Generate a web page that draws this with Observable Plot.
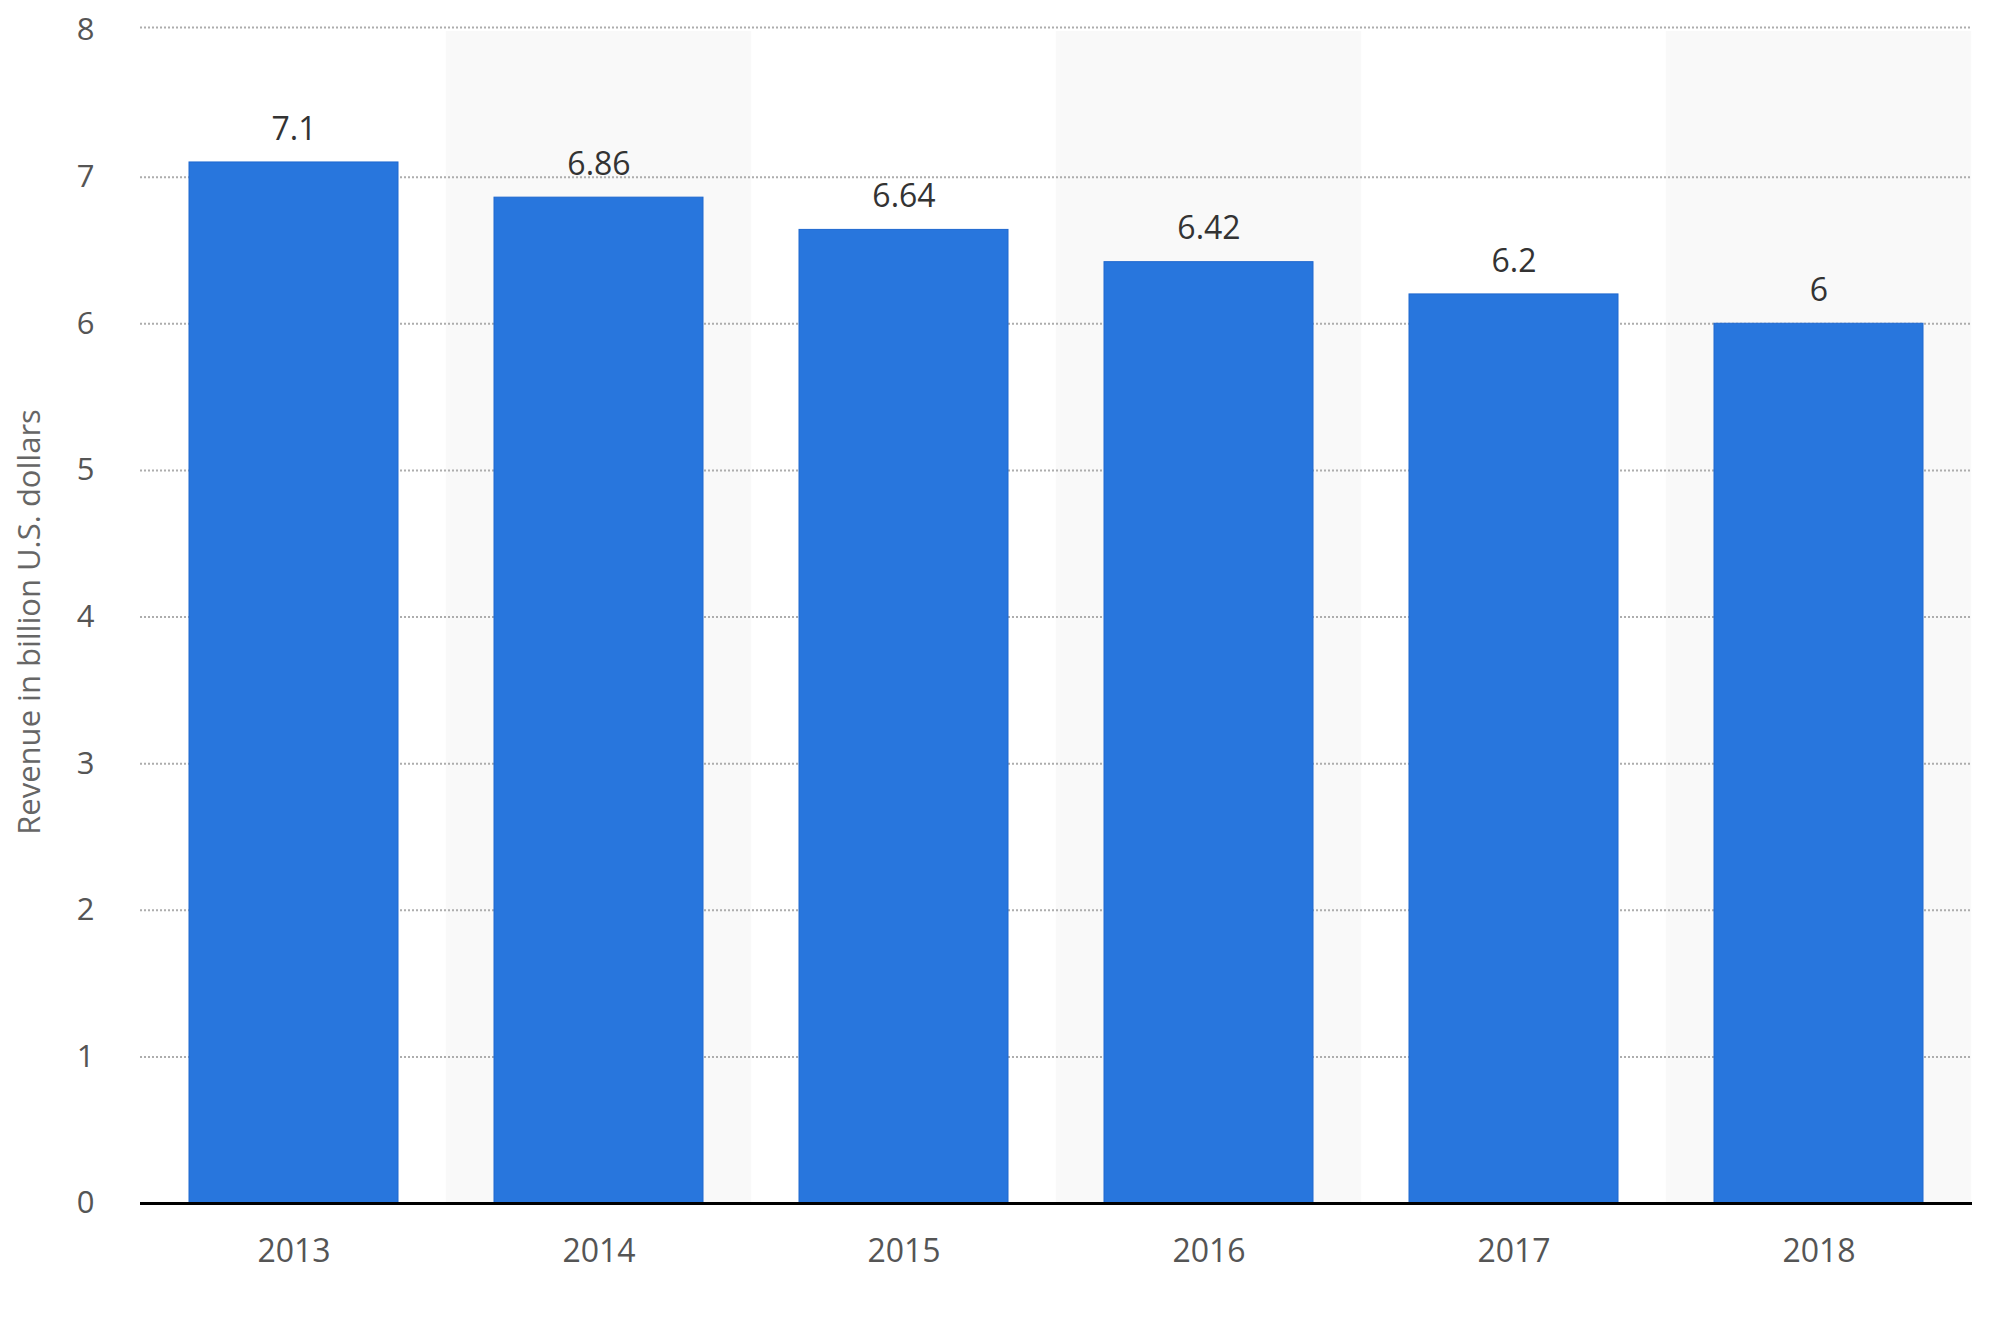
<!DOCTYPE html>
<html>
<head>
<meta charset="utf-8">
<script src="https://cdn.jsdelivr.net/npm/d3@7"></script>
<script src="https://cdn.jsdelivr.net/npm/@observablehq/plot@0.6"></script>
<style>
  html, body { margin: 0; padding: 0; background: #fff; }
  #chart svg { display: block; }
</style>
</head>
<body>
<div id="chart"></div>
<script>
const years = ["2013", "2014", "2015", "2016", "2017", "2018"];
const revenue = [7.1, 6.86, 6.64, 6.42, 6.2, 6];
const yTicks = [0, 1, 2, 3, 4, 5, 6, 7, 8];
const yTitle = "Revenue in billion U.S. dollars";

const data = years.map((year, i) => ({year, value: revenue[i]}));
const shaded = data.filter((d, i) => i % 2 === 1);

const W = 2000, H = 1331;
const mL = 140, mR = 28, mT = 30, mB = 128;
const padIn = 0.316, padOut = 0.158;
const step = (W - mL - mR) / (years.length - padIn + 2 * padOut);
const halfGap = step * padIn / 2;

const font = "'Open Sans', 'DejaVu Sans', sans-serif";

const chart = Plot.plot({
  width: W,
  height: H,
  marginLeft: mL,
  marginRight: mR,
  marginTop: mT,
  marginBottom: mB,
  style: {fontFamily: font, background: "#fff"},
  x: {domain: years, paddingInner: padIn, paddingOuter: padOut, label: null},
  y: {domain: [0, 8], label: null},
  marks: [
    Plot.barY(shaded, {x: "year", y1: 0, y2: 8, fill: "#f9f9f9", insetLeft: -halfGap, insetRight: -halfGap, insetTop: 1}),
    Plot.gridY(yTicks.filter(t => t > 0 && t < 8), {stroke: "#adadad", strokeOpacity: 1, strokeWidth: 2, strokeDasharray: "2,2"}),
    Plot.ruleY([8], {dy: -3, stroke: "#adadad", strokeWidth: 2, strokeDasharray: "2,2"}),
    Plot.barY(data, {x: "year", y: "value", fill: "#2876dd", stroke: "#1f68cf", strokeWidth: 1}),
    Plot.ruleY([0], {stroke: "#000", strokeWidth: 3}),
    Plot.axisY(yTicks, {tickSize: 0, tickPadding: 46, fontSize: 31, fill: "#555", tickFormat: d => String(d), label: null}),
    Plot.axisX({tickSize: 0, tickPadding: 36, fontSize: 32, fill: "#555", label: null, style: {letterSpacing: "2px"}}),
    Plot.text(data, {x: "year", y: "value", text: d => String(d.value), dy: -33, fontSize: 32, fill: "#333", style: {letterSpacing: "1.5px"}}),
    Plot.text([yTitle], {text: d => d, frameAnchor: "left", textAnchor: "middle", rotate: -90, dx: -110, dy: 5, fontSize: 31, fill: "#666", style: {letterSpacing: "0.9px"}})
  ]
});
document.getElementById("chart").appendChild(chart);
</script>
</body>
</html>
